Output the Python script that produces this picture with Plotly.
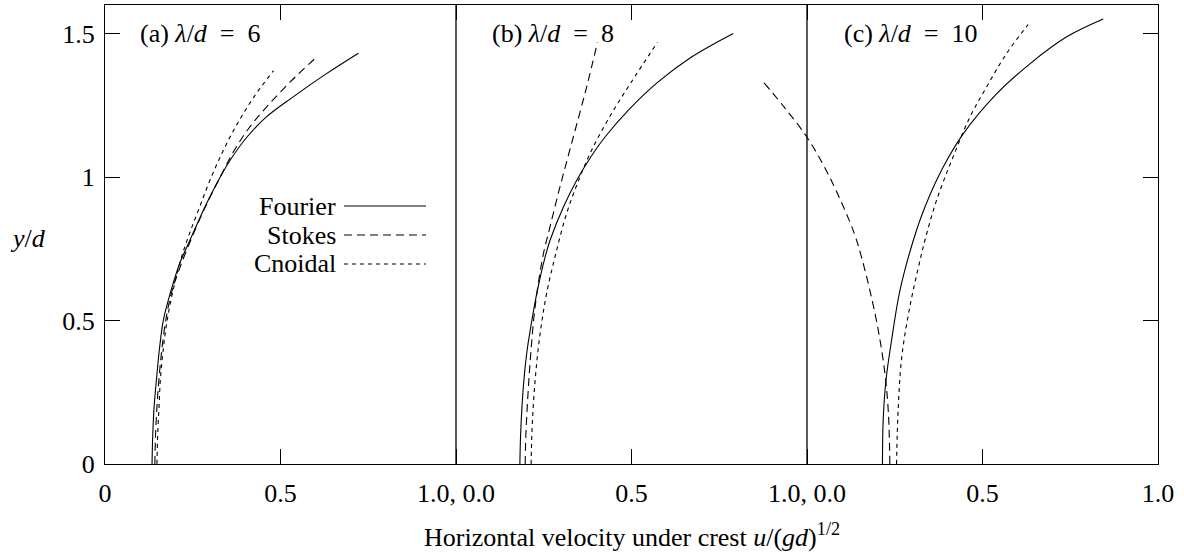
import plotly.graph_objects as go

# ---- data (panel-local coordinates: u/(gd)^1/2 vs y/d) ----
panel_labels = ["(a) <i>λ</i>/<i>d</i>&nbsp; = &nbsp;6", "(b) <i>λ</i>/<i>d</i>&nbsp; = &nbsp;8", "(c) <i>λ</i>/<i>d</i>&nbsp; = &nbsp;10"]
series_names = ["Fourier", "Stokes", "Cnoidal"]

# Panel (a)  lambda/d = 6
a_fourier_y = [0, 0.1, 0.2, 0.3, 0.4, 0.5, 0.6, 0.7, 0.78, 0.884, 0.977, 1.058, 1.139, 1.209, 1.279, 1.36, 1.432]
a_fourier_u = [0.134, 0.136, 0.140, 0.147, 0.155, 0.166, 0.187, 0.213, 0.242, 0.280, 0.318, 0.356, 0.404, 0.459, 0.535, 0.630, 0.722]
a_stokes_y = [0, 0.1, 0.2, 0.3, 0.4, 0.5, 0.6, 0.7, 0.814, 0.907, 1.0, 1.093, 1.174, 1.244, 1.331, 1.419]
a_stokes_u = [0.142, 0.144, 0.148, 0.154, 0.162, 0.173, 0.19, 0.218, 0.256, 0.290, 0.328, 0.368, 0.412, 0.460, 0.527, 0.603]
a_cnoidal_y = [0, 0.1, 0.2, 0.3, 0.4, 0.5, 0.6, 0.7, 0.791, 0.884, 0.989, 1.093, 1.186, 1.279, 1.371]
a_cnoidal_u = [0.148, 0.150, 0.154, 0.158, 0.166, 0.177, 0.193, 0.213, 0.237, 0.266, 0.299, 0.337, 0.377, 0.424, 0.480]

# Panel (b)  lambda/d = 8
b_fourier_y = [0, 0.1, 0.2, 0.3, 0.4, 0.5, 0.6, 0.722, 0.78, 0.896, 0.989, 1.07, 1.139, 1.232, 1.331, 1.418, 1.501]
b_fourier_u = [0.182, 0.184, 0.188, 0.194, 0.203, 0.216, 0.231, 0.254, 0.268, 0.306, 0.344, 0.384, 0.424, 0.490, 0.575, 0.670, 0.790]
b_stokes_y = [0, 0.1, 0.2, 0.3, 0.4, 0.5, 0.6, 0.733, 0.803, 0.965, 1.139, 1.313, 1.470]
b_stokes_u = [0.197, 0.199, 0.203, 0.208, 0.214, 0.221, 0.231, 0.249, 0.263, 0.296, 0.334, 0.372, 0.403]
b_cnoidal_y = [0, 0.1, 0.2, 0.3, 0.4, 0.5, 0.6, 0.722, 0.873, 1.0, 1.093, 1.209, 1.325, 1.470]
b_cnoidal_u = [0.214, 0.216, 0.220, 0.226, 0.234, 0.245, 0.259, 0.282, 0.315, 0.353, 0.386, 0.437, 0.496, 0.574]

# Panel (c)  lambda/d = 10
c_fourier_y = [0, 0.153, 0.292, 0.432, 0.606, 0.780, 0.896, 1.035, 1.151, 1.290, 1.395, 1.489, 1.551]
c_fourier_u = [0.215, 0.217, 0.225, 0.241, 0.265, 0.303, 0.336, 0.388, 0.445, 0.540, 0.635, 0.740, 0.844]
c_stokes_y = [0, 0.176, 0.316, 0.467, 0.606, 0.722, 0.803, 0.907, 1.023, 1.139, 1.244, 1.331]
c_stokes_u = [0.236, 0.232, 0.222, 0.203, 0.179, 0.155, 0.135, 0.100, 0.055, 0.0, -0.065, -0.124]
c_cnoidal_y = [0, 0.199, 0.373, 0.548, 0.710, 0.780, 0.919, 1.070, 1.209, 1.313, 1.430, 1.532]
c_cnoidal_u = [0.255, 0.260, 0.270, 0.293, 0.322, 0.336, 0.369, 0.416, 0.464, 0.511, 0.568, 0.630]

x_tickvals = [0, 0.5, 1, 1.5, 2, 2.5, 3]
x_ticktext = ["0", "0.5", "1.0, 0.0", "0.5", "1.0, 0.0", "0.5", "1.0"]
y_tickvals = [0, 0.5, 1, 1.5]
y_ticktext = ["0", "0.5", "1", "1.5"]

FONT = "Liberation Serif, Times New Roman, serif"
FS = 26
dashes = {"Fourier": "solid", "Stokes": "8px,5px", "Cnoidal": "4px,4px"}

panels = [
    (0, {"Fourier": (a_fourier_u, a_fourier_y), "Stokes": (a_stokes_u, a_stokes_y), "Cnoidal": (a_cnoidal_u, a_cnoidal_y)}),
    (1, {"Fourier": (b_fourier_u, b_fourier_y), "Stokes": (b_stokes_u, b_stokes_y), "Cnoidal": (b_cnoidal_u, b_cnoidal_y)}),
    (2, {"Fourier": (c_fourier_u, c_fourier_y), "Stokes": (c_stokes_u, c_stokes_y), "Cnoidal": (c_cnoidal_u, c_cnoidal_y)}),
]

fig = go.Figure()
for offset, series in panels:
    for name in series_names:
        u, y = series[name]
        fig.add_trace(go.Scatter(
            x=[v + offset for v in u], y=y, mode="lines",
            line=dict(color="black", width=1.1, dash=dashes[name], shape="spline", smoothing=1.0),
            showlegend=False, hoverinfo="skip"))

# panel separators
for xv in (1, 2):
    fig.add_shape(type="line", xref="x", yref="paper", x0=xv, x1=xv, y0=0, y1=1,
                  line=dict(color="black", width=1.3))

# panel labels
label_x = [0.094, 1.097, 2.1]
for lx, txt in zip(label_x, panel_labels):
    fig.add_annotation(x=lx, y=1.5, xref="x", yref="y", text=txt, showarrow=False,
                       xanchor="left", yanchor="middle", font=dict(family=FONT, size=FS, color="black"))

# legend drawn inside panel (a)
W, H, L, B = 1053.0, 459.0, 105.0, 464.0
leg_rows = [(206, "Fourier"), (235, "Stokes"), (264, "Cnoidal")]
for py, name in leg_rows:
    yp = (B - py) / H
    fig.add_annotation(x=(335 - L) / W, y=yp, xref="paper", yref="paper", text=name, showarrow=False,
                       xanchor="right", yanchor="middle", xshift=3, font=dict(family=FONT, size=FS, color="black"))
    fig.add_shape(type="line", xref="paper", yref="paper", x0=(344 - L) / W, x1=(426 - L) / W, y0=yp, y1=yp,
                  line=dict(color="black", width=1.1, dash=dashes[name]))

# y axis title
fig.add_annotation(x=(28 - L) / W, y=(B - 238) / H, xref="paper", yref="paper",
                   text="<i>y</i>/<i>d</i>", showarrow=False, xanchor="center", yanchor="middle",
                   font=dict(family=FONT, size=FS, color="black"))
# x axis title
fig.add_annotation(x=0.5, y=(B - 535) / H, xref="paper", yref="paper",
                   text="Horizontal velocity under crest <i>u</i>/(<i>gd</i>)<sup>1/2</sup>",
                   showarrow=False, xanchor="center", yanchor="middle",
                   font=dict(family=FONT, size=FS, color="black"))

fig.update_layout(
    width=1184, height=556,
    margin=dict(l=105, r=26, t=5, b=92),
    paper_bgcolor="white", plot_bgcolor="white",
    font=dict(family=FONT, size=FS, color="black"),
    xaxis=dict(range=[0, 3], tickvals=x_tickvals, ticktext=x_ticktext, ticks="inside", ticklen=15,
               tickwidth=1.2, tickcolor="black", showline=True, linecolor="black", linewidth=1.3,
               mirror="ticks", showgrid=False, zeroline=False, ticklabelstandoff=6,
               tickfont=dict(family=FONT, size=FS)),
    yaxis=dict(range=[0, 1.6], tickvals=y_tickvals, ticktext=y_ticktext, ticks="inside", ticklen=15,
               tickwidth=1.2, tickcolor="black", showline=True, linecolor="black", linewidth=1.3,
               mirror="ticks", showgrid=False, zeroline=False, ticklabelstandoff=4,
               tickfont=dict(family=FONT, size=FS)),
)

fig.write_html("out.html", config={"displayModeBar": False},
               post_script="document.body.style.margin='0px';document.body.style.padding='0px';")
